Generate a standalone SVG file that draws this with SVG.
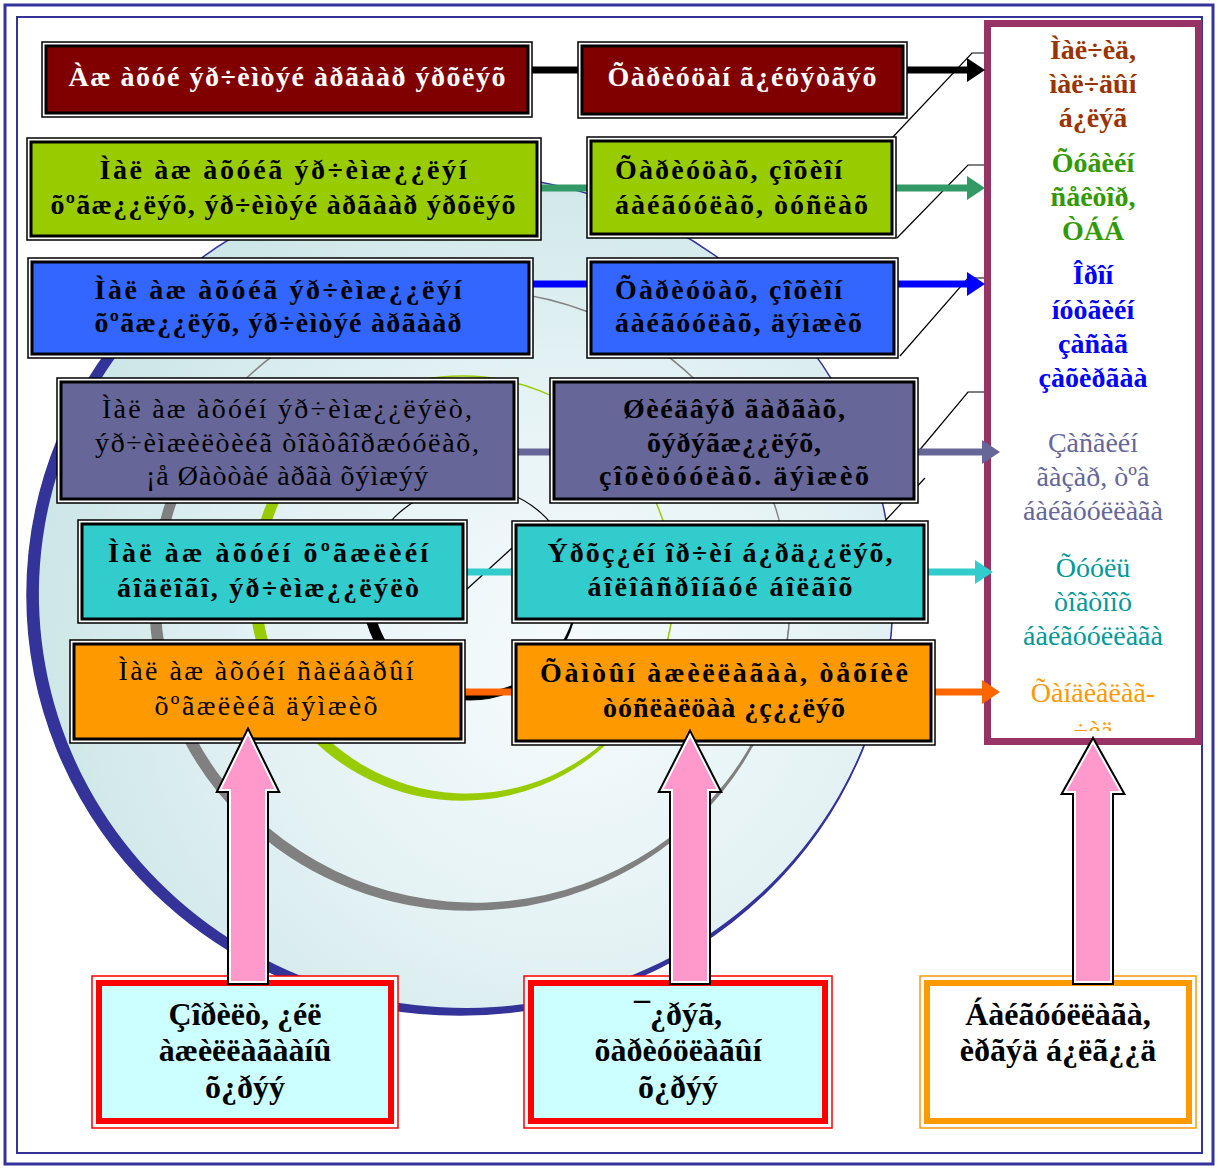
<svg xmlns="http://www.w3.org/2000/svg" width="1218" height="1169" viewBox="0 0 1218 1169">
<defs>
<style>
.tx{font-family:"Liberation Serif","Times New Roman",serif;font-size:28px;font-weight:bold;text-anchor:middle;fill:#000}
.rg{font-weight:normal}
.st{text-anchor:start}
.wh{fill:#fff}
.pn{font-family:"Liberation Serif","Times New Roman",serif;font-size:28px;text-anchor:middle}
.pb{font-weight:bold}
.bt{font-family:"Liberation Serif","Times New Roman",serif;font-size:32px;font-weight:bold;text-anchor:middle;fill:#000}
.ob{fill:#fff;stroke:#000;stroke-width:1.5}
.ib{stroke:#000;stroke-width:3}
.con{fill:none;stroke-width:7}
.lead{fill:none;stroke:#000;stroke-width:1.2}
.arr-o{fill:#ff99cc;stroke:#000;stroke-width:6}
.arr-i{fill:#ff99cc;stroke:#fff;stroke-width:2}
</style>
<radialGradient id="bg" cx="0.62" cy="0.58" r="0.62">
<stop offset="0" stop-color="#f6fbfd"/>
<stop offset="0.55" stop-color="#e4f2f4"/>
<stop offset="1" stop-color="#cde6e7"/>
</radialGradient>
<marker id="mk0" viewBox="0 0 18 24" refX="8" refY="12" markerWidth="18" markerHeight="24" markerUnits="userSpaceOnUse" orient="auto"><path d="M0,0 L18,12 L0,24 Z" fill="#000"/></marker>
<marker id="mk1" viewBox="0 0 18 24" refX="8" refY="12" markerWidth="18" markerHeight="24" markerUnits="userSpaceOnUse" orient="auto"><path d="M0,0 L18,12 L0,24 Z" fill="#339966"/></marker>
<marker id="mk2" viewBox="0 0 18 24" refX="8" refY="12" markerWidth="18" markerHeight="24" markerUnits="userSpaceOnUse" orient="auto"><path d="M0,0 L18,12 L0,24 Z" fill="#0000ff"/></marker>
<marker id="mk3" viewBox="0 0 18 24" refX="8" refY="12" markerWidth="18" markerHeight="24" markerUnits="userSpaceOnUse" orient="auto"><path d="M0,0 L18,12 L0,24 Z" fill="#666699"/></marker>
<marker id="mk4" viewBox="0 0 18 24" refX="8" refY="12" markerWidth="18" markerHeight="24" markerUnits="userSpaceOnUse" orient="auto"><path d="M0,0 L18,12 L0,24 Z" fill="#33cccc"/></marker>
<marker id="mk5" viewBox="0 0 18 24" refX="8" refY="12" markerWidth="18" markerHeight="24" markerUnits="userSpaceOnUse" orient="auto"><path d="M0,0 L18,12 L0,24 Z" fill="#ff6600"/></marker>
<clipPath id="pclip"><rect x="991" y="27" width="205" height="704"/></clipPath>
</defs>
<rect x="0" y="0" width="1218" height="1169" fill="#fff"/>
<g id="frame">
<rect x="5" y="5" width="1208" height="1159" fill="none" stroke="#333399" stroke-width="3"/>
<rect x="17" y="17" width="1185" height="1136" fill="none" stroke="#333399" stroke-width="2"/>
</g>
<g id="rings">
<ellipse cx="460" cy="595" rx="433" ry="420" fill="url(#bg)" stroke="#333399" stroke-width="1.5"/>
<path d="M118.8,336.4 A433,420 0 1 0 886.4,522.1 A427,414 0 1 1 129.4,339.1 Z" fill="#333399"/>
<ellipse cx="470" cy="600" rx="320" ry="310" fill="none" stroke="#808080" stroke-width="1.5"/>
<path d="M192.9,445 A320,310 0 1 0 770.7,494 A314.5,304.5 0 1 1 202.8,445.9 Z" fill="#808080"/>
<circle cx="462" cy="588" r="212" fill="none" stroke="#99cc00" stroke-width="1.5"/>
<path d="M278.4,482 A212,212 0 1 0 670.8,551.2 A206.5,206.5 0 1 1 288.6,483.8 Z" fill="#99cc00"/>
<circle cx="470" cy="593" r="107" fill="none" stroke="#000" stroke-width="1.2"/>
<path d="M364.6,574.4 A107,107 0 1 0 562.7,539.5 A102,102 0 1 1 373.9,572.8 Z" fill="#000"/>
</g>
<g id="leaders">
<path class="lead" d="M985,53 H972 L892,138"/>
<path class="lead" d="M985,165 H968 L897,238"/>
<path class="lead" d="M985,278 H968 L900,356"/>
<path class="lead" d="M985,392 H968 L918,452"/>
<path class="lead" d="M885,521 L925,478"/>
<path class="lead" d="M466,590 L512,548"/>
</g>
<g id="panel">
<rect x="987.5" y="23.5" width="211" height="718" fill="#fff" stroke="#993366" stroke-width="7"/>
<g clip-path="url(#pclip)">
<g class="pn pb" fill="#993300">
<text x="1093" y="59">Ìàë÷èä,</text>
<text x="1093" y="93">ìàë÷äûí</text>
<text x="1093" y="127">á¿ëýã</text>
</g>
<g class="pn pb" fill="#339900">
<text x="1093" y="172">Õóâèéí</text>
<text x="1093" y="206">ñåêòîð,</text>
<text x="1093" y="240">ÒÁÁ</text>
</g>
<g class="pn pb" fill="#0000ff">
<text x="1093" y="284">Îðîí</text>
<text x="1093" y="319">íóòãèéí</text>
<text x="1093" y="353">çàñàã</text>
<text x="1093" y="387">çàõèðãàà</text>
</g>
<g class="pn" fill="#666699">
<text x="1093" y="452">Çàñãèéí</text>
<text x="1093" y="486">ãàçàð, òºâ</text>
<text x="1093" y="520">áàéãóóëëàãà</text>
</g>
<g class="pn" fill="#009999">
<text x="1093" y="577">Õóóëü</text>
<text x="1093" y="611">òîãòîîõ</text>
<text x="1093" y="645">áàéãóóëëàãà</text>
</g>
<g class="pn" fill="#ff9900">
<text x="1093" y="702">Õàíäèâëàã-</text>
<text x="1093" y="740">÷èä</text>
</g>
</g>
</g>
<g id="connectors">
<path class="con" stroke="#000" d="M532,70 H578"/>
<path class="con" stroke="#000" d="M907,70 H975" marker-end="url(#mk0)"/>
<path class="con" stroke="#339966" d="M541,188 H587"/>
<path class="con" stroke="#339966" d="M896,188 H975" marker-end="url(#mk1)"/>
<path class="con" stroke="#0000ff" d="M533,284 H587"/>
<path class="con" stroke="#0000ff" d="M898,284 H975" marker-end="url(#mk2)"/>
<path class="con" stroke="#666699" d="M518,452 H550"/>
<path class="con" stroke="#666699" d="M918,452 H990" marker-end="url(#mk3)"/>
<path class="con" stroke="#33cccc" d="M467,572 H512"/>
<path class="con" stroke="#33cccc" d="M928,572 H983" marker-end="url(#mk4)"/>
<path class="con" stroke="#ff6600" d="M465,692 H512"/>
<path class="con" stroke="#ff6600" d="M935,692 H990" marker-end="url(#mk5)"/>
</g>
<g id="n1a">
<rect class="ob" x="42" y="42" width="490" height="75"/>
<rect class="ib" x="46" y="46" width="482" height="67" fill="#800000"/>
<text class="tx wh" x="287" y="86" textLength="437" lengthAdjust="spacing">Àæ àõóé ýð÷èìòýé àðãààð ýðõëýõ</text>
</g>
<g id="n1b">
<rect class="ob" x="578" y="42" width="329" height="76"/>
<rect class="ib" x="582" y="46" width="321" height="68" fill="#800000"/>
<text class="tx wh" x="742" y="86" textLength="269" lengthAdjust="spacing">Õàðèóöàí ã¿éöýòãýõ</text>
</g>
<g id="n2a">
<rect class="ob" x="27" y="138" width="514" height="102"/>
<rect class="ib" x="31" y="142" width="506" height="94" fill="#99cc00"/>
<text class="tx" x="283" y="179" textLength="367" lengthAdjust="spacing">Ìàë àæ àõóéã ýð÷èìæ¿¿ëýí</text>
<text class="tx" x="283" y="214" textLength="465" lengthAdjust="spacing">õºãæ¿¿ëýõ, ýð÷èìòýé àðãààð ýðõëýõ</text>
</g>
<g id="n2b">
<rect class="ob" x="587" y="137" width="309" height="101"/>
<rect class="ib" x="591" y="141" width="301" height="93" fill="#99cc00"/>
<text class="tx st" x="615" y="179" textLength="227" lengthAdjust="spacing">Õàðèóöàõ, çîõèîí</text>
<text class="tx st" x="615" y="214" textLength="253" lengthAdjust="spacing">áàéãóóëàõ, òóñëàõ</text>
</g>
<g id="n3a">
<rect class="ob" x="28" y="258" width="505" height="100"/>
<rect class="ib" x="32" y="262" width="497" height="92" fill="#3366ff"/>
<text class="tx" x="278" y="299" textLength="367" lengthAdjust="spacing">Ìàë àæ àõóéã ýð÷èìæ¿¿ëýí</text>
<text class="tx" x="278" y="332" textLength="367" lengthAdjust="spacing">õºãæ¿¿ëýõ, ýð÷èìòýé àðãààð</text>
</g>
<g id="n3b">
<rect class="ob" x="587" y="258" width="311" height="100"/>
<rect class="ib" x="591" y="262" width="303" height="92" fill="#3366ff"/>
<text class="tx st" x="615" y="299" textLength="227" lengthAdjust="spacing">Õàðèóöàõ, çîõèîí</text>
<text class="tx st" x="615" y="332" textLength="247" lengthAdjust="spacing">áàéãóóëàõ, äýìæèõ</text>
</g>
<g id="n4a">
<rect class="ob" x="57" y="378" width="461" height="125"/>
<rect class="ib" x="61" y="382" width="453" height="117" fill="#666699"/>
<text class="tx rg" x="287" y="418" textLength="370" lengthAdjust="spacing">Ìàë àæ àõóéí ýð÷èìæ¿¿ëýëò,</text>
<text class="tx rg" x="287" y="452" textLength="384" lengthAdjust="spacing">ýð÷èìæèëòèéã òîãòâîðæóóëàõ,</text>
<text class="tx rg" x="287" y="485" textLength="282" lengthAdjust="spacing">¡å Øàòòàé àðãà õýìæýý</text>
</g>
<g id="n4b">
<rect class="ob" x="550" y="378" width="368" height="125"/>
<rect class="ib" x="554" y="382" width="360" height="117" fill="#666699"/>
<text class="tx" x="734" y="418" textLength="222" lengthAdjust="spacing">Øèéäâýð ãàðãàõ,</text>
<text class="tx" x="734" y="452" textLength="174" lengthAdjust="spacing">õýðýãæ¿¿ëýõ,</text>
<text class="tx" x="734" y="485" textLength="270" lengthAdjust="spacing">çîõèöóóëàõ. äýìæèõ</text>
</g>
<g id="n5a">
<rect class="ob" x="78" y="520" width="389" height="103"/>
<rect class="ib" x="82" y="524" width="381" height="95" fill="#33cccc"/>
<text class="tx" x="268" y="562" textLength="320" lengthAdjust="spacing">Ìàë àæ àõóéí õºãæëèéí</text>
<text class="tx" x="268" y="597" textLength="302" lengthAdjust="spacing">áîäëîãî, ýð÷èìæ¿¿ëýëò</text>
</g>
<g id="n5b">
<rect class="ob" x="512" y="521" width="416" height="102"/>
<rect class="ib" x="516" y="525" width="408" height="94" fill="#33cccc"/>
<text class="tx" x="720" y="562" textLength="345" lengthAdjust="spacing">Ýðõç¿éí îð÷èí á¿ðä¿¿ëýõ,</text>
<text class="tx" x="720" y="596" textLength="265" lengthAdjust="spacing">áîëîâñðîíãóé áîëãîõ</text>
</g>
<g id="n6a">
<rect class="ob" x="70" y="640" width="395" height="103"/>
<rect class="ib" x="74" y="644" width="387" height="95" fill="#ff9900"/>
<text class="tx rg" x="266" y="680" textLength="295" lengthAdjust="spacing">Ìàë àæ àõóéí ñàëáàðûí</text>
<text class="tx rg" x="266" y="715" textLength="223" lengthAdjust="spacing">õºãæëèéã äýìæèõ</text>
</g>
<g id="n6b">
<rect class="ob" x="512" y="640" width="423" height="105"/>
<rect class="ib" x="516" y="644" width="415" height="97" fill="#ff9900"/>
<text class="tx" x="724" y="682" textLength="368" lengthAdjust="spacing">Õàìòûí àæèëëàãàà, òåõíèê</text>
<text class="tx" x="724" y="717" textLength="242" lengthAdjust="spacing">òóñëàëöàà ¿ç¿¿ëýõ</text>
</g>
<g id="b1">
<rect x="92" y="976" width="306" height="152" fill="#fff" stroke="#ff0000" stroke-width="1.5"/>
<rect x="99" y="983" width="292" height="138" fill="#ccffff" stroke="#ff0000" stroke-width="6"/>
<text class="bt" x="245" y="1025">Çîðèëò, ¿éë</text>
<text class="bt" x="245" y="1061">àæèëëàãààíû</text>
<text class="bt" x="245" y="1098">õ¿ðýý</text>
</g>
<g id="b2">
<rect x="524" y="976" width="308" height="152" fill="#fff" stroke="#ff0000" stroke-width="1.5"/>
<rect x="531" y="983" width="294" height="138" fill="#ccffff" stroke="#ff0000" stroke-width="6"/>
<text class="bt" x="678" y="1025">¯¿ðýã,</text>
<text class="bt" x="678" y="1061">õàðèóöëàãûí</text>
<text class="bt" x="678" y="1098">õ¿ðýý</text>
</g>
<g id="b3">
<rect x="920" y="976" width="276" height="152" fill="#fff" stroke="#ff9900" stroke-width="1.5"/>
<rect x="927" y="983" width="262" height="138" fill="#fff" stroke="#ff9900" stroke-width="6"/>
<text class="bt" x="1058" y="1025">Áàéãóóëëàãà,</text>
<text class="bt" x="1058" y="1061">èðãýä á¿ëã¿¿ä</text>
</g>
<g id="up1">
<polygon class="arr-o" points="248,733 276,790 266,790 266,982 230,982 230,790 220,790"/>
<polygon class="arr-i" points="248,733 276,790 266,790 266,982 230,982 230,790 220,790"/>
</g>
<g id="up2">
<polygon class="arr-o" points="690,735 718,790 708,790 708,982 672,982 672,790 662,790"/>
<polygon class="arr-i" points="690,735 718,790 708,790 708,982 672,982 672,790 662,790"/>
</g>
<g id="up3">
<polygon class="arr-o" points="1093,742 1121,792 1111,792 1111,982 1075,982 1075,792 1065,792"/>
<polygon class="arr-i" points="1093,742 1121,792 1111,792 1111,982 1075,982 1075,792 1065,792"/>
</g>
</svg>
